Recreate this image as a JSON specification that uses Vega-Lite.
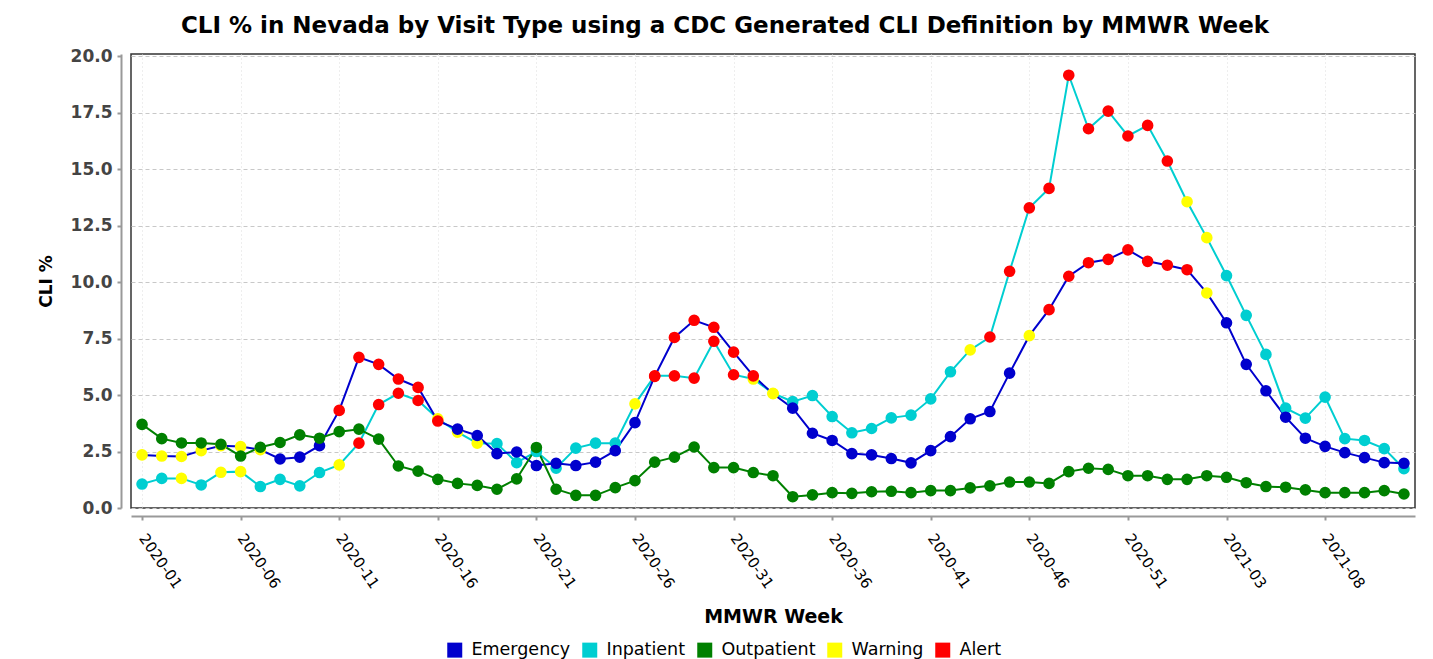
{
  "$schema": "https://vega.github.io/schema/vega-lite/v6.json",
  "width": 1284,
  "height": 454,
  "autosize": {"type": "none"},
  "padding": {"left": 131, "top": 54, "right": 18, "bottom": 151},
  "background": "white",
  "title": {
    "text": "CLI % in Nevada by Visit Type using a CDC Generated CLI Definition by MMWR Week",
    "font": "DejaVu Sans",
    "fontSize": 23,
    "fontWeight": "bold",
    "color": "black",
    "anchor": "middle",
    "dx": -48,
    "offset": 9
  },
  "data": {
    "values": [
      {"w":"2020-01","s":"Inpatient","v":1.06},
      {"w":"2020-02","s":"Inpatient","v":1.31},
      {"w":"2020-03","s":"Inpatient","v":1.31,"f":"Warning"},
      {"w":"2020-04","s":"Inpatient","v":1.02},
      {"w":"2020-05","s":"Inpatient","v":1.58,"f":"Warning"},
      {"w":"2020-06","s":"Inpatient","v":1.61,"f":"Warning"},
      {"w":"2020-07","s":"Inpatient","v":0.95},
      {"w":"2020-08","s":"Inpatient","v":1.27},
      {"w":"2020-09","s":"Inpatient","v":0.98},
      {"w":"2020-10","s":"Inpatient","v":1.57},
      {"w":"2020-11","s":"Inpatient","v":1.91,"f":"Warning"},
      {"w":"2020-12","s":"Inpatient","v":2.87,"f":"Alert"},
      {"w":"2020-13","s":"Inpatient","v":4.58,"f":"Alert"},
      {"w":"2020-14","s":"Inpatient","v":5.08,"f":"Alert"},
      {"w":"2020-15","s":"Inpatient","v":4.76,"f":"Alert"},
      {"w":"2020-16","s":"Inpatient","v":3.95,"f":"Warning"},
      {"w":"2020-17","s":"Inpatient","v":3.36,"f":"Warning"},
      {"w":"2020-18","s":"Inpatient","v":2.87,"f":"Warning"},
      {"w":"2020-19","s":"Inpatient","v":2.85},
      {"w":"2020-20","s":"Inpatient","v":2.01},
      {"w":"2020-21","s":"Inpatient","v":2.5},
      {"w":"2020-22","s":"Inpatient","v":1.76},
      {"w":"2020-23","s":"Inpatient","v":2.65},
      {"w":"2020-24","s":"Inpatient","v":2.87},
      {"w":"2020-25","s":"Inpatient","v":2.87},
      {"w":"2020-26","s":"Inpatient","v":4.61,"f":"Warning"},
      {"w":"2020-27","s":"Inpatient","v":5.85,"f":"Alert"},
      {"w":"2020-28","s":"Inpatient","v":5.85,"f":"Alert"},
      {"w":"2020-29","s":"Inpatient","v":5.75,"f":"Alert"},
      {"w":"2020-30","s":"Inpatient","v":7.38,"f":"Alert"},
      {"w":"2020-31","s":"Inpatient","v":5.9,"f":"Alert"},
      {"w":"2020-32","s":"Inpatient","v":5.71,"f":"Warning"},
      {"w":"2020-33","s":"Inpatient","v":5.08,"f":"Warning"},
      {"w":"2020-34","s":"Inpatient","v":4.71},
      {"w":"2020-35","s":"Inpatient","v":4.98},
      {"w":"2020-36","s":"Inpatient","v":4.05},
      {"w":"2020-37","s":"Inpatient","v":3.33},
      {"w":"2020-38","s":"Inpatient","v":3.52},
      {"w":"2020-39","s":"Inpatient","v":3.99},
      {"w":"2020-40","s":"Inpatient","v":4.11},
      {"w":"2020-41","s":"Inpatient","v":4.83},
      {"w":"2020-42","s":"Inpatient","v":6.03},
      {"w":"2020-43","s":"Inpatient","v":7.0,"f":"Warning"},
      {"w":"2020-44","s":"Inpatient","v":7.57,"f":"Alert"},
      {"w":"2020-45","s":"Inpatient","v":10.48,"f":"Alert"},
      {"w":"2020-46","s":"Inpatient","v":13.29,"f":"Alert"},
      {"w":"2020-47","s":"Inpatient","v":14.15,"f":"Alert"},
      {"w":"2020-48","s":"Inpatient","v":19.16,"f":"Alert"},
      {"w":"2020-49","s":"Inpatient","v":16.79,"f":"Alert"},
      {"w":"2020-50","s":"Inpatient","v":17.57,"f":"Alert"},
      {"w":"2020-51","s":"Inpatient","v":16.47,"f":"Alert"},
      {"w":"2020-52","s":"Inpatient","v":16.94,"f":"Alert"},
      {"w":"2020-53","s":"Inpatient","v":15.36,"f":"Alert"},
      {"w":"2021-01","s":"Inpatient","v":13.56,"f":"Warning"},
      {"w":"2021-02","s":"Inpatient","v":11.97,"f":"Warning"},
      {"w":"2021-03","s":"Inpatient","v":10.29},
      {"w":"2021-04","s":"Inpatient","v":8.53},
      {"w":"2021-05","s":"Inpatient","v":6.8},
      {"w":"2021-06","s":"Inpatient","v":4.42},
      {"w":"2021-07","s":"Inpatient","v":3.98},
      {"w":"2021-08","s":"Inpatient","v":4.91},
      {"w":"2021-09","s":"Inpatient","v":3.07},
      {"w":"2021-10","s":"Inpatient","v":2.99},
      {"w":"2021-11","s":"Inpatient","v":2.63},
      {"w":"2021-12","s":"Inpatient","v":1.74},
      {"w":"2020-01","s":"Emergency","v":2.35,"f":"Warning"},
      {"w":"2020-02","s":"Emergency","v":2.3,"f":"Warning"},
      {"w":"2020-03","s":"Emergency","v":2.28,"f":"Warning"},
      {"w":"2020-04","s":"Emergency","v":2.54,"f":"Warning"},
      {"w":"2020-05","s":"Emergency","v":2.76,"f":"Warning"},
      {"w":"2020-06","s":"Emergency","v":2.72,"f":"Warning"},
      {"w":"2020-07","s":"Emergency","v":2.58,"f":"Warning"},
      {"w":"2020-08","s":"Emergency","v":2.17},
      {"w":"2020-09","s":"Emergency","v":2.25},
      {"w":"2020-10","s":"Emergency","v":2.76},
      {"w":"2020-11","s":"Emergency","v":4.32,"f":"Alert"},
      {"w":"2020-12","s":"Emergency","v":6.67,"f":"Alert"},
      {"w":"2020-13","s":"Emergency","v":6.36,"f":"Alert"},
      {"w":"2020-14","s":"Emergency","v":5.71,"f":"Alert"},
      {"w":"2020-15","s":"Emergency","v":5.34,"f":"Alert"},
      {"w":"2020-16","s":"Emergency","v":3.85,"f":"Alert"},
      {"w":"2020-17","s":"Emergency","v":3.49},
      {"w":"2020-18","s":"Emergency","v":3.21},
      {"w":"2020-19","s":"Emergency","v":2.41},
      {"w":"2020-20","s":"Emergency","v":2.48},
      {"w":"2020-21","s":"Emergency","v":1.88},
      {"w":"2020-22","s":"Emergency","v":1.98},
      {"w":"2020-23","s":"Emergency","v":1.88},
      {"w":"2020-24","s":"Emergency","v":2.03},
      {"w":"2020-25","s":"Emergency","v":2.54},
      {"w":"2020-26","s":"Emergency","v":3.78},
      {"w":"2020-27","s":"Emergency","v":5.83,"f":"Alert"},
      {"w":"2020-28","s":"Emergency","v":7.55,"f":"Alert"},
      {"w":"2020-29","s":"Emergency","v":8.31,"f":"Alert"},
      {"w":"2020-30","s":"Emergency","v":8.0,"f":"Alert"},
      {"w":"2020-31","s":"Emergency","v":6.9,"f":"Alert"},
      {"w":"2020-32","s":"Emergency","v":5.85,"f":"Alert"},
      {"w":"2020-33","s":"Emergency","v":5.06,"f":"Warning"},
      {"w":"2020-34","s":"Emergency","v":4.42},
      {"w":"2020-35","s":"Emergency","v":3.31},
      {"w":"2020-36","s":"Emergency","v":2.99},
      {"w":"2020-37","s":"Emergency","v":2.41},
      {"w":"2020-38","s":"Emergency","v":2.35},
      {"w":"2020-39","s":"Emergency","v":2.19},
      {"w":"2020-40","s":"Emergency","v":2.0},
      {"w":"2020-41","s":"Emergency","v":2.54},
      {"w":"2020-42","s":"Emergency","v":3.16},
      {"w":"2020-43","s":"Emergency","v":3.95},
      {"w":"2020-44","s":"Emergency","v":4.27},
      {"w":"2020-45","s":"Emergency","v":5.97},
      {"w":"2020-46","s":"Emergency","v":7.63,"f":"Warning"},
      {"w":"2020-47","s":"Emergency","v":8.78,"f":"Alert"},
      {"w":"2020-48","s":"Emergency","v":10.26,"f":"Alert"},
      {"w":"2020-49","s":"Emergency","v":10.86,"f":"Alert"},
      {"w":"2020-50","s":"Emergency","v":11.01,"f":"Alert"},
      {"w":"2020-51","s":"Emergency","v":11.43,"f":"Alert"},
      {"w":"2020-52","s":"Emergency","v":10.92,"f":"Alert"},
      {"w":"2020-53","s":"Emergency","v":10.75,"f":"Alert"},
      {"w":"2021-01","s":"Emergency","v":10.55,"f":"Alert"},
      {"w":"2021-02","s":"Emergency","v":9.52,"f":"Warning"},
      {"w":"2021-03","s":"Emergency","v":8.2},
      {"w":"2021-04","s":"Emergency","v":6.36},
      {"w":"2021-05","s":"Emergency","v":5.19},
      {"w":"2021-06","s":"Emergency","v":4.02},
      {"w":"2021-07","s":"Emergency","v":3.09},
      {"w":"2021-08","s":"Emergency","v":2.73},
      {"w":"2021-09","s":"Emergency","v":2.45},
      {"w":"2021-10","s":"Emergency","v":2.23},
      {"w":"2021-11","s":"Emergency","v":2.01},
      {"w":"2021-12","s":"Emergency","v":1.98},
      {"w":"2020-01","s":"Outpatient","v":3.7},
      {"w":"2020-02","s":"Outpatient","v":3.07},
      {"w":"2020-03","s":"Outpatient","v":2.88},
      {"w":"2020-04","s":"Outpatient","v":2.88},
      {"w":"2020-05","s":"Outpatient","v":2.82},
      {"w":"2020-06","s":"Outpatient","v":2.3},
      {"w":"2020-07","s":"Outpatient","v":2.69},
      {"w":"2020-08","s":"Outpatient","v":2.9},
      {"w":"2020-09","s":"Outpatient","v":3.24},
      {"w":"2020-10","s":"Outpatient","v":3.09},
      {"w":"2020-11","s":"Outpatient","v":3.38},
      {"w":"2020-12","s":"Outpatient","v":3.49},
      {"w":"2020-13","s":"Outpatient","v":3.05},
      {"w":"2020-14","s":"Outpatient","v":1.86},
      {"w":"2020-15","s":"Outpatient","v":1.63},
      {"w":"2020-16","s":"Outpatient","v":1.27},
      {"w":"2020-17","s":"Outpatient","v":1.09},
      {"w":"2020-18","s":"Outpatient","v":1.0},
      {"w":"2020-19","s":"Outpatient","v":0.83},
      {"w":"2020-20","s":"Outpatient","v":1.29},
      {"w":"2020-21","s":"Outpatient","v":2.68},
      {"w":"2020-22","s":"Outpatient","v":0.83},
      {"w":"2020-23","s":"Outpatient","v":0.56},
      {"w":"2020-24","s":"Outpatient","v":0.56},
      {"w":"2020-25","s":"Outpatient","v":0.9},
      {"w":"2020-26","s":"Outpatient","v":1.21},
      {"w":"2020-27","s":"Outpatient","v":2.03},
      {"w":"2020-28","s":"Outpatient","v":2.25},
      {"w":"2020-29","s":"Outpatient","v":2.7},
      {"w":"2020-30","s":"Outpatient","v":1.79},
      {"w":"2020-31","s":"Outpatient","v":1.79},
      {"w":"2020-32","s":"Outpatient","v":1.57},
      {"w":"2020-33","s":"Outpatient","v":1.43},
      {"w":"2020-34","s":"Outpatient","v":0.5},
      {"w":"2020-35","s":"Outpatient","v":0.58},
      {"w":"2020-36","s":"Outpatient","v":0.68},
      {"w":"2020-37","s":"Outpatient","v":0.65},
      {"w":"2020-38","s":"Outpatient","v":0.72},
      {"w":"2020-39","s":"Outpatient","v":0.74},
      {"w":"2020-40","s":"Outpatient","v":0.68},
      {"w":"2020-41","s":"Outpatient","v":0.77},
      {"w":"2020-42","s":"Outpatient","v":0.77},
      {"w":"2020-43","s":"Outpatient","v":0.89},
      {"w":"2020-44","s":"Outpatient","v":0.98},
      {"w":"2020-45","s":"Outpatient","v":1.15},
      {"w":"2020-46","s":"Outpatient","v":1.15},
      {"w":"2020-47","s":"Outpatient","v":1.09},
      {"w":"2020-48","s":"Outpatient","v":1.61},
      {"w":"2020-49","s":"Outpatient","v":1.76},
      {"w":"2020-50","s":"Outpatient","v":1.71},
      {"w":"2020-51","s":"Outpatient","v":1.43},
      {"w":"2020-52","s":"Outpatient","v":1.43},
      {"w":"2020-53","s":"Outpatient","v":1.27},
      {"w":"2021-01","s":"Outpatient","v":1.27},
      {"w":"2021-02","s":"Outpatient","v":1.43},
      {"w":"2021-03","s":"Outpatient","v":1.36},
      {"w":"2021-04","s":"Outpatient","v":1.12},
      {"w":"2021-05","s":"Outpatient","v":0.95},
      {"w":"2021-06","s":"Outpatient","v":0.92},
      {"w":"2021-07","s":"Outpatient","v":0.8},
      {"w":"2021-08","s":"Outpatient","v":0.68},
      {"w":"2021-09","s":"Outpatient","v":0.68},
      {"w":"2021-10","s":"Outpatient","v":0.68},
      {"w":"2021-11","s":"Outpatient","v":0.77},
      {"w":"2021-12","s":"Outpatient","v":0.62}
    ]
  },
  "encoding": {
    "x": {
      "field": "w",
      "type": "ordinal",
      "sort": null,
      "scale": {"type": "point", "padding": 0.56},
      "axis": {
        "values": ["2020-01","2020-06","2020-11","2020-16","2020-21","2020-26","2020-31","2020-36","2020-41","2020-46","2020-51","2021-03","2021-08"],
        "title": "MMWR Week",
        "offset": 8,
        "grid": true,
        "gridColor": "#dddddd",
        "gridDash": [1, 3],
        "labelAngle": 55,
        "labelAlign": "left",
        "labelBaseline": "middle",
        "labelDx": -17,
        "labelPadding": 15,
        "labelFontSize": 15,
        "labelColor": "black",
        "tickSize": 4,
        "titlePadding": 17,
        "titleFontSize": 19
      }
    },
    "y": {
      "field": "v",
      "type": "quantitative",
      "scale": {"domain": [0, 20.1], "nice": false},
      "axis": {
        "values": [0, 2.5, 5, 7.5, 10, 12.5, 15, 17.5, 20],
        "format": ".1f",
        "title": "CLI %",
        "offset": 10,
        "grid": true,
        "gridColor": "#c8c8c8",
        "gridDash": [4, 3],
        "labelFontSize": 17,
        "labelFontWeight": "bold",
        "labelColor": "#444444",
        "labelPadding": 5,
        "tickSize": 4,
        "titlePadding": 15,
        "titleFontSize": 17
      }
    }
  },
  "resolve": {"scale": {"color": "shared"}, "legend": {"color": "independent"}},
  "layer": [
    {
      "mark": {"type": "line", "strokeWidth": 2},
      "encoding": {
        "color": {
          "field": "s",
          "type": "nominal",
          "scale": {
            "domain": ["Emergency", "Inpatient", "Outpatient", "Warning", "Alert"],
            "range": ["#0000CD", "#00CED1", "#008000", "#FFFF00", "#FF0000"]
          },
          "legend": null
        }
      }
    },
    {
      "transform": [{"calculate": "datum.f ? datum.f : datum.s", "as": "c"}],
      "mark": {"type": "circle", "size": 135, "opacity": 1},
      "encoding": {
        "color": {
          "field": "c",
          "type": "nominal",
          "scale": {
            "domain": ["Emergency", "Inpatient", "Outpatient", "Warning", "Alert"],
            "range": ["#0000CD", "#00CED1", "#008000", "#FFFF00", "#FF0000"]
          },
          "legend": {
            "title": null,
            "orient": "none",
            "direction": "horizontal",
            "legendX": 315,
            "legendY": 587,
            "symbolType": "square",
            "symbolSize": 225,
            "symbolStrokeWidth": 0,
            "symbolOpacity": 1,
            "labelFontSize": 17.5,
            "labelColor": "black",
            "labelOffset": 8,
            "columnPadding": 10
          }
        }
      }
    }
  ],
  "config": {
    "font": "DejaVu Sans",
    "view": {"stroke": "#333333", "strokeWidth": 1.5},
    "axis": {
      "labelFont": "DejaVu Sans",
      "titleFont": "DejaVu Sans",
      "titleFontWeight": "bold",
      "titleColor": "black",
      "domainColor": "#999999",
      "domainWidth": 2,
      "tickColor": "#999999",
      "tickWidth": 2
    },
    "legend": {"labelFont": "DejaVu Sans"}
  }
}
